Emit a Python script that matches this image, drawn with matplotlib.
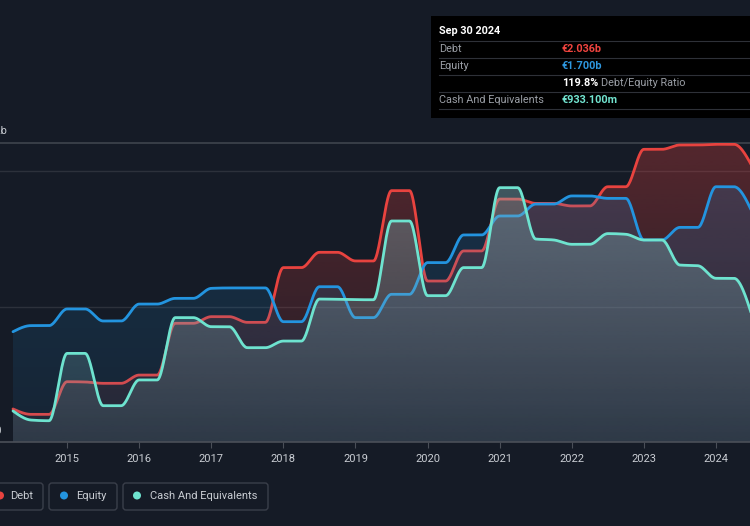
import numpy as np
import matplotlib
matplotlib.use("Agg")
import matplotlib.pyplot as plt
from matplotlib.patches import Rectangle, FancyBboxPatch, Circle, Polygon
from matplotlib.transforms import Affine2D

plt.rcParams['font.family'] = ['Roboto', 'DejaVu Sans']

# quarterly points, Mar 2014 .. Jun 2024 (values in € billions)
quarters = 2014.25 + 0.25 * np.arange(42)
debt = [0.244, 0.204, 0.204, 0.445, 0.443, 0.433, 0.433, 0.494, 0.494, 0.876,
        0.876, 0.925, 0.925, 0.883, 0.883, 1.287, 1.287, 1.400, 1.400, 1.336,
        1.336, 1.855, 1.855, 1.188, 1.188, 1.410, 1.410, 1.793, 1.793, 1.761,
        1.761, 1.742, 1.742, 1.884, 1.884, 2.160, 2.160, 2.192, 2.192, 2.197,
        2.197, 2.036]
equity = [0.814, 0.859, 0.859, 0.982, 0.982, 0.893, 0.893, 1.018, 1.018, 1.060,
          1.060, 1.134, 1.137, 1.137, 1.137, 0.888, 0.888, 1.146, 1.146, 0.918,
          0.918, 1.090, 1.090, 1.324, 1.324, 1.528, 1.528, 1.668, 1.668, 1.756,
          1.756, 1.816, 1.816, 1.798, 1.798, 1.491, 1.491, 1.584, 1.584, 1.884,
          1.884, 1.700]
cash = [0.229, 0.162, 0.157, 0.654, 0.654, 0.268, 0.268, 0.458, 0.458, 0.918,
        0.918, 0.851, 0.851, 0.696, 0.696, 0.745, 0.745, 1.055, 1.053, 1.050,
        1.050, 1.631, 1.631, 1.080, 1.080, 1.287, 1.287, 1.877, 1.877, 1.498,
        1.491, 1.459, 1.459, 1.538, 1.533, 1.491, 1.491, 1.306, 1.301, 1.208,
        1.208, 0.933]
years = list(range(2015, 2025))

BG = '#151b26'
RED = '#e8433f'
BLUE = '#2394df'
CYAN = '#6ee3cf'


def monotone(x, y, n=24):
    # d3-style monotoneX curve for drawing
    x = np.asarray(x, float)
    y = np.asarray(y, float)
    h = np.diff(x)
    d = np.diff(y) / h
    m = np.zeros_like(y)
    for i in range(1, len(y) - 1):
        if d[i - 1] * d[i] <= 0:
            m[i] = 0
        else:
            p = (d[i - 1] * h[i] + d[i] * h[i - 1]) / (h[i - 1] + h[i])
            m[i] = (np.sign(d[i - 1]) + np.sign(d[i])) * min(abs(d[i - 1]), abs(d[i]), 0.5 * abs(p))
    m[0] = (3 * d[0] - m[1]) / 2
    m[-1] = (3 * d[-1] - m[-2]) / 2
    xs, ys = [], []
    for i in range(len(h)):
        t = np.linspace(0, 1, n, endpoint=False)
        h00 = 2 * t**3 - 3 * t**2 + 1
        h10 = t**3 - 2 * t**2 + t
        h01 = -2 * t**3 + 3 * t**2
        h11 = t**3 - t**2
        xs.append(x[i] + t * h[i])
        ys.append(h00 * y[i] + h10 * h[i] * m[i] + h01 * y[i + 1] + h11 * h[i] * m[i + 1])
    xs.append([x[-1]])
    ys.append([y[-1]])
    return np.concatenate(xs), np.concatenate(ys)


def gradient_fill(ax, xs, ys, rgb, a_top, a_bot, top, z):
    poly = Polygon(np.column_stack([np.r_[xs, xs[-1], xs[0]], np.r_[ys, 0, 0]]),
                   closed=True, facecolor='none', edgecolor='none', transform=ax.transData)
    ax.add_patch(poly)
    grad = np.zeros((256, 1, 4))
    grad[:, 0, :3] = np.array(rgb) / 255
    grad[:, 0, 3] = np.linspace(a_top, a_bot, 256)
    im = ax.imshow(grad, aspect='auto', extent=[xs[0], xs[-1], 0, top],
                   origin='upper', zorder=z, interpolation='bilinear')
    im.set_clip_path(poly)


fig = plt.figure(figsize=(7.5, 5.26), dpi=100)
fig.patch.set_facecolor(BG)
pix = Affine2D().scale(1 / 750, -1 / 526).translate(0, 1) + fig.transFigure

ax = fig.add_axes([0, (526 - 442) / 526, 1, (442 - 143) / 526])
ax.set_facecolor(BG)
ymax = 299 / 135.5
ax.set_ylim(0, ymax)
ax.set_xlim(2014.25 - 13 / 72.1, 2024.5 - 2 / 72.1)
for s in ax.spines.values():
    s.set_visible(False)
ax.set_yticks([])
ax.set_xticks(years)
ax.set_xticklabels([str(y) for y in years], color='#c9cdd3', fontsize=8)
ax.tick_params(axis='x', length=4, color='#4a4f58', pad=5)
ax.axhline(0, color='#4a4f58', lw=1.2, zorder=20, clip_on=False)
for g in (1, 2):
    ax.axhline(g, color='#2c313b', lw=1, zorder=0.5)
ax.axhline(ymax, color='#3f444d', lw=1.2, zorder=0.5, clip_on=False)

series = [(debt, RED, (232, 67, 63), 0.30, 0.06),
          (equity, BLUE, (35, 148, 223), 0.20, 0.08),
          (cash, CYAN, (130, 180, 185), 0.44, 0.14)]
z = 2
for vals, col, rgb, at, ab in series:
    xs, ys = monotone(quarters, vals)
    gradient_fill(ax, xs, ys, rgb, at, ab, ymax, z)
    ax.plot(xs, ys, color=col, lw=2.0, zorder=z + 0.5, solid_capstyle='round')
    z += 1

# y labels (cut off at the left edge, as in the source)
fig.text(7, 131, '€2.2b', transform=pix, ha='right', va='center', color='#c9cdd3', fontsize=8)
fig.text(2, 431, '€0', transform=pix, ha='right', va='center', color='#c9cdd3', fontsize=8)

# tooltip
fig.patches.append(Rectangle((431, 16), 319, 102, transform=pix, facecolor='#000000',
                             edgecolor='none', zorder=30))
for yy in (41, 58, 75, 92, 109):
    fig.lines.append(plt.Line2D([439, 750], [yy, yy], transform=pix, color='#2e3138',
                                lw=0.8, zorder=31))
fs = 7.8
fig.text(439, 31, 'Sep 30 2024', transform=pix, color='white', fontsize=fs,
         fontweight='bold', va='center', zorder=32)
rows = [('Debt', '€2.036b', '#f0443f', 49), ('Equity', '€1.700b', '#2e98e0', 66),
        ('Cash And Equivalents', '€933.100m', '#72e4d0', 100)]
for lab, val, c, yy in rows:
    fig.text(439, yy, lab, transform=pix, color='#9a9ea5', fontsize=fs, va='center', zorder=32)
    fig.text(562, yy, val, transform=pix, color=c, fontsize=fs, fontweight='bold',
             va='center', zorder=32)
fig.text(562, 83, '119.8%', transform=pix, color='white', fontsize=fs, fontweight='bold',
         va='center', zorder=32)
fig.text(601, 83, 'Debt/Equity Ratio', transform=pix, color='#9a9ea5', fontsize=fs,
         va='center', zorder=32)

# legend
legend = [('Debt', RED, -40, 43, 0, 10), ('Equity', BLUE, 49, 117, 64, 76),
          ('Cash And Equivalents', CYAN, 123, 268, 137, 150)]
for lab, c, x0, x1, cx, tx in legend:
    fig.patches.append(FancyBboxPatch((x0, 483), x1 - x0, 27, boxstyle='round,pad=0,rounding_size=3',
                                      transform=pix, facecolor='none', edgecolor='#3a3f4a',
                                      lw=1, zorder=30))
    fig.patches.append(Circle((cx, 495.5), 4, transform=pix, facecolor=c, edgecolor='none', zorder=31))
    fig.text(tx, 496, lab, transform=pix, color='#c9cdd3', fontsize=8, va='center', zorder=31)

fig.savefig('out.png', dpi=100, facecolor=BG)
